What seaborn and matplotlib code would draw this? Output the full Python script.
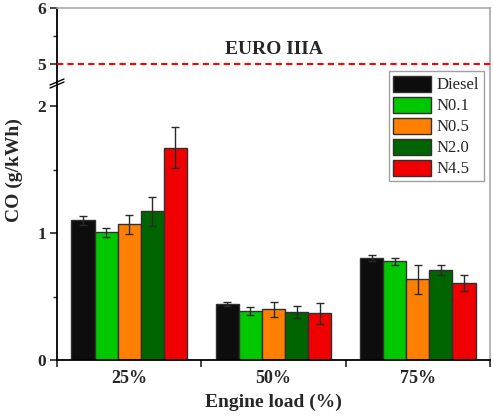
import numpy as np
import pandas as pd
import matplotlib
matplotlib.use("Agg")
import matplotlib.pyplot as plt
import seaborn as sns
from matplotlib.lines import Line2D

loads = ["25%", "50%", "75%"]
fuels = ["Diesel", "N0.1", "N0.5", "N2.0", "N4.5"]
co_diesel = [1.10, 0.44, 0.80]
co_n01 = [1.005, 0.386, 0.777]
co_n05 = [1.068, 0.399, 0.635]
co_n20 = [1.17, 0.378, 0.706]
co_n45 = [1.672, 0.367, 0.606]
err_diesel = [0.035, 0.015, 0.024]
err_n01 = [0.035, 0.033, 0.03]
err_n05 = [0.073, 0.06, 0.113]
err_n20 = [0.117, 0.05, 0.04]
err_n45 = [0.16, 0.08, 0.063]
colors = ["#0d0d0d", "#00c800", "#ff8000", "#006400", "#f00000"]
limit_value = 5
limit_label = "EURO IIIA"

values = [co_diesel, co_n01, co_n05, co_n20, co_n45]
errors = [err_diesel, err_n01, err_n05, err_n20, err_n45]

rows = []
for f, vals in zip(fuels, values):
    for l, v in zip(loads, vals):
        rows.append({"load": l, "fuel": f, "CO": v})
df = pd.DataFrame(rows)

sns.set_style("ticks")
plt.rcParams["font.family"] = ["Liberation Serif", "DejaVu Serif"]
plt.rcParams["font.weight"] = "bold"


# broken-axis style scale: 0-2 wide, 2-5 compressed, 5-6 upper
def fwd(y):
    y = np.asarray(y, dtype=float)
    return np.where(y <= 2, y * 127.0,
                    np.where(y <= 5, 254.0 + (y - 2) * 14.0,
                             296.0 + (y - 5) * 56.0))


def inv(s):
    s = np.asarray(s, dtype=float)
    return np.where(s <= 254, s / 127.0,
                    np.where(s <= 296, 2 + (s - 254) / 14.0,
                             5 + (s - 296) / 56.0))


fig = plt.figure(figsize=(4.94, 4.16), dpi=100)
ax = fig.add_axes([57 / 494, 56 / 416, 433 / 494, 352 / 416])
ax.set_yscale("function", functions=(fwd, inv))

sns.barplot(data=df, x="load", y="CO", hue="fuel", palette=colors,
            errorbar=None, edgecolor="#303030", linewidth=1.0, ax=ax,
            width=0.8, saturation=1)

for cont, errs in zip(ax.containers, errors):
    xs = [p.get_x() + p.get_width() / 2 for p in cont]
    hs = [p.get_height() for p in cont]
    ax.errorbar(xs, hs, yerr=errs, fmt="none", ecolor="#2a2a2a",
                elinewidth=1.0, capsize=2.7, capthick=1.0, zorder=5)

ax.set_ylim(0, 6)
ax.set_xlim(-0.5, 2.5)
ax.set_yticks([0, 1, 2, 5, 6])
ax.set_yticks([0.5, 1.5, 5.5], minor=True)
ax.set_yticklabels(["0", "1", "2", "5", "6"], fontsize=12.5, fontweight="bold")
ax.set_xticks([-0.5, 0.5, 1.5, 2.5])
ax.set_xticklabels([])
ax.set_xticks([0, 1, 2], minor=True)
ax.set_xticklabels(loads, minor=True, fontsize=13, fontweight="bold")
ax.tick_params(axis="x", which="minor", length=0, pad=7)
ax.tick_params(axis="x", which="major", length=5, width=1.2, direction="out")
ax.tick_params(axis="y", which="major", length=5, width=1.2, direction="out", pad=3)
ax.tick_params(axis="y", which="minor", length=3, width=1.0, direction="out")

ax.axhline(limit_value, color="#ff0000", linestyle=(0, (3, 2)), linewidth=1.5, zorder=4)
ax.text(1, 5.26, limit_label, ha="center", va="center", fontsize=14, fontweight="bold")

for s in ["left", "bottom"]:
    ax.spines[s].set_color("black")
    ax.spines[s].set_linewidth(1.3)
for s in ["top", "right"]:
    ax.spines[s].set_color("#a8a8a8")
    ax.spines[s].set_linewidth(1.2)
    ax.spines[s].set_visible(True)

# break marks on the left spine
for dy in (0, 3):
    fig.add_artist(Line2D([50 / 494, 64 / 494],
                          [1 - (85 + dy) / 416, 1 - (79 + dy) / 416],
                          transform=fig.transFigure, color="black",
                          linewidth=1.0))

ax.set_xlabel("Engine load (%)", fontsize=14, fontweight="bold", labelpad=5)
ax.set_ylabel("")
fig.text(14 / 494, 1 - 170 / 416, "CO (g/kWh)", rotation=90, ha="center", va="center",
         fontsize=14, fontweight="bold")

leg = ax.legend(loc="upper right", bbox_to_anchor=(0.985, 0.82), borderaxespad=0,
                fontsize=12, frameon=True, fancybox=False, framealpha=1,
                edgecolor="#a0a0a0", handlelength=2.3, handleheight=1.1,
                labelspacing=0.2, handletextpad=0.35, borderpad=0.25, title=None)
for t in leg.get_texts():
    t.set_fontweight("normal")
leg.get_frame().set_linewidth(1.0)

fig.savefig("out.png", dpi=100)
